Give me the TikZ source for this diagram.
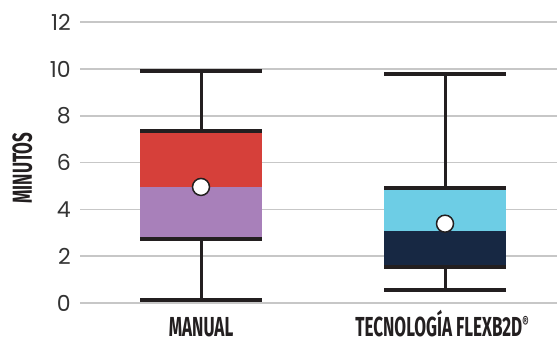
\documentclass[tikz,border=0pt]{standalone}
\usepackage{fontspec}
\setmainfont{Poppins}
\newfontfamily\condfont[FakeStretch=0.62]{Fira Sans}
\definecolor{boxred}{HTML}{D6403A}
\definecolor{boxpurple}{HTML}{A880BA}
\definecolor{boxcyan}{HTML}{6DCDE5}
\definecolor{boxnavy}{HTML}{172843}
\definecolor{inkline}{HTML}{231F20}

\begin{document}
\begin{tikzpicture}[x=1pt,y=1pt,
    gridline/.style={draw=black!22,line width=1.5pt},
    whisker/.style={draw=inkline,line width=3pt},
    wcap/.style={draw=inkline,line width=4pt},
    mean/.style={circle,draw=inkline,fill=white,line width=1.5pt,minimum size=17pt,inner sep=0pt},
    ticklab/.style={anchor=east,inner sep=0pt,text=black!80,font=\fontsize{22}{24}\selectfont},
    catlab/.style={inner sep=0pt,text depth=0pt,text=inkline,font=\condfont\bfseries\fontsize{27.5}{28}\selectfont}]
  \useasboundingbox (0,0) rectangle (557,341);
  \begin{scope}[shift={(0,38)},y=23.4pt]
    % grid and values
    \foreach \v in {0,2,...,12}{
      \draw[gridline] (80,\v) -- (557,\v);
      \node[ticklab] (t\v) at (71,\v) {\v};
    }
    % manual
    \draw[whisker] (201,0.13) -- (201,9.93);
    \fill[boxred] (140,4.96) rectangle (262,7.36);
    \fill[boxpurple] (140,2.72) rectangle (262,4.96);
    \draw[wcap] (140,7.36) -- (262,7.36);
    \draw[wcap] (140,2.72) -- (262,2.72);
    \draw[wcap] (140,9.93) -- (262,9.93);
    \draw[wcap] (140,0.13) -- (262,0.13);
    \node[mean] (m1) at (201,4.96) {};
    % flexb2d
    \draw[whisker] (445,0.56) -- (445,9.77);
    \fill[boxcyan] (384,3.08) rectangle (506,4.93);
    \fill[boxnavy] (384,1.55) rectangle (506,3.08);
    \draw[wcap] (384,4.93) -- (506,4.93);
    \draw[wcap] (384,1.55) -- (506,1.55);
    \draw[wcap] (384,9.77) -- (506,9.77);
    \draw[wcap] (384,0.56) -- (506,0.56);
    \node[mean] (m2) at (445,3.39) {};
  \end{scope}
  \node[catlab,anchor=base] (c1) at (201,4.5) {MANUAL};
  \node[catlab,anchor=base] (c2) at (442,4.5) {TECNOLOGÍA FLEXB2D\raisebox{8pt}{\fontsize{16}{16}\selectfont®}};
  \node[catlab,rotate=90] (ylab) at (22,173) {MINUTOS};
\end{tikzpicture}
\end{document}
